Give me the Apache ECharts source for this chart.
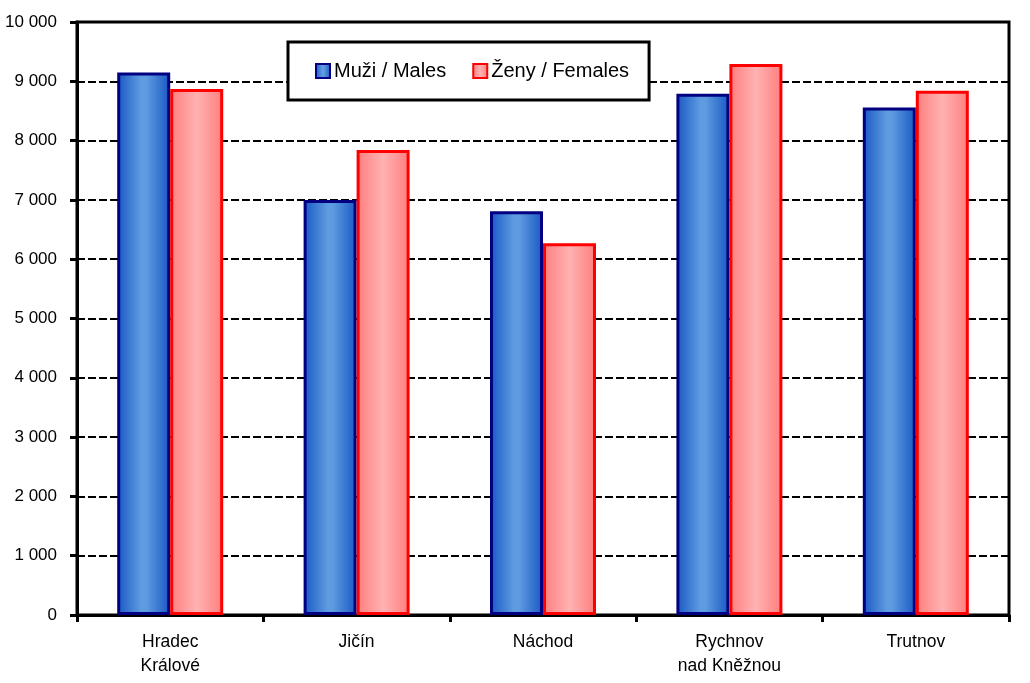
<!DOCTYPE html>
<html>
<head>
<meta charset="utf-8">
<script src="https://cdn.jsdelivr.net/npm/echarts@6/dist/echarts.min.js"></script>
<style>html,body{margin:0;padding:0;background:#fff}#c{width:1030px;height:683px}</style>
</head>
<body>
<div id="c"></div>
<script>
var categories = ['Hradec\nKrálové', 'Jičín', 'Náchod', 'Rychnov\nnad Kněžnou', 'Trutnov'];
var males = [9150, 7000, 6810, 8790, 8560];
var females = [8870, 7840, 6270, 9290, 8840];
var seriesNames = ['Muži / Males', 'Ženy / Females'];
var yTicks = [0, 1000, 2000, 3000, 4000, 5000, 6000, 7000, 8000, 9000, 10000];

var FONT = '"Liberation Sans", Arial, sans-serif';
var blueFill = new echarts.graphic.LinearGradient(0, 0, 1, 0, [
  {offset: 0, color: '#1858c4'}, {offset: 0.45, color: '#5e9be0'},
  {offset: 0.55, color: '#5e9be0'}, {offset: 1, color: '#1858c4'}]);
var redFill = new echarts.graphic.LinearGradient(0, 0, 1, 0, [
  {offset: 0, color: '#ff7d7d'}, {offset: 0.5, color: '#ffb2b2'}, {offset: 1, color: '#ff7d7d'}]);

var chart = echarts.init(document.getElementById('c'), null, {renderer: 'canvas'});
chart.setOption({
  animation: false,
  backgroundColor: '#fff',
  grid: {left: 77, right: 21, top: 22, bottom: 68, show: true, borderColor: '#000', borderWidth: 3, containLabel: false},
  legend: {
    left: 288, top: 42, orient: 'horizontal',
    padding: [19, 20, 19, 27],
    itemGap: 26, itemWidth: 14, itemHeight: 14,
    borderColor: '#000', borderWidth: 3, backgroundColor: '#fff',
    textStyle: {fontFamily: FONT, fontSize: 20, color: '#000', padding: [0, 0, 0, -1]},
    data: [{name: seriesNames[0], icon: 'rect'}, {name: seriesNames[1], icon: 'rect'}]
  },
  xAxis: {
    type: 'category', data: categories,
    axisLine: {lineStyle: {color: '#000', width: 3}},
    axisTick: {show: true, length: 7, lineStyle: {color: '#000', width: 3}},
    axisLabel: {fontFamily: FONT, fontSize: 17.5, color: '#000', lineHeight: 24, margin: 15}
  },
  yAxis: {
    type: 'value', min: yTicks[0], max: yTicks[yTicks.length - 1], interval: 1000,
    axisLine: {show: true, lineStyle: {color: '#000', width: 3}},
    axisTick: {show: true, length: 7, lineStyle: {color: '#000', width: 3}},
    axisLabel: {fontFamily: FONT, fontSize: 17, color: '#000', margin: 20,
      formatter: function (v) { return String(v).replace(/\B(?=(\d{3})+(?!\d))/g, ' '); }},
    splitLine: {show: true, lineStyle: {color: '#000', width: 2.2, type: [8, 3]}}
  },
  series: [
    {name: seriesNames[0], type: 'bar', data: males, barWidth: 53, barGap: '0%',
     itemStyle: {color: blueFill, borderColor: '#000080', borderWidth: 3}},
    {name: seriesNames[1], type: 'bar', data: females, barWidth: 53, barGap: '0%',
     itemStyle: {color: redFill, borderColor: '#ff0000', borderWidth: 3}}
  ]
});
</script>
</body>
</html>
